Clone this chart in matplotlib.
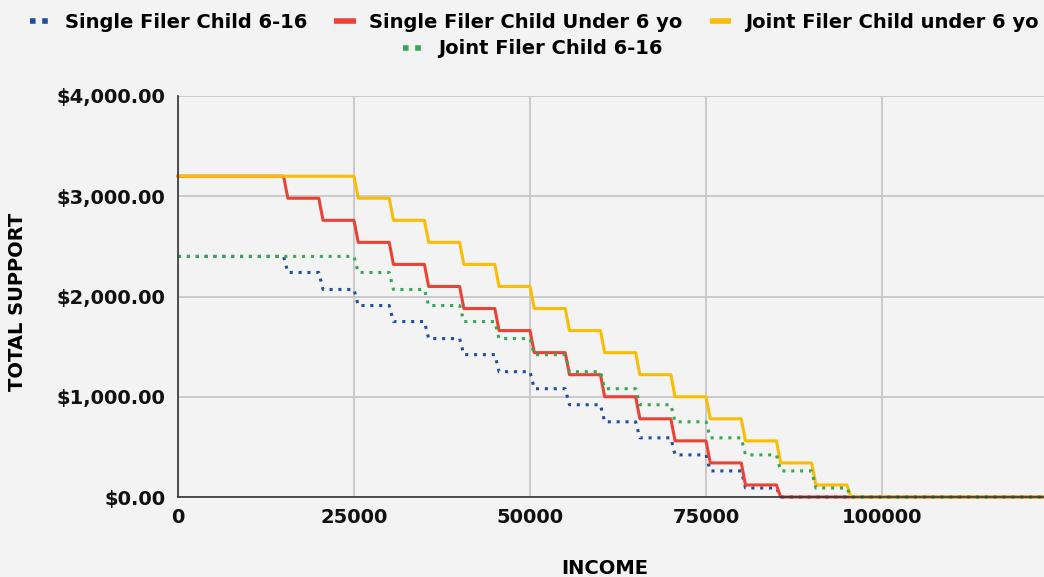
import matplotlib
matplotlib.use("Agg")
import matplotlib.pyplot as plt
from matplotlib.lines import Line2D
from matplotlib.ticker import FuncFormatter

# support levels ($) between drops
single_6_16_levels = [2400, 2240, 2070, 1910, 1750, 1580, 1420, 1250, 1080, 920, 750, 590, 420, 260, 90, 0]
single_u6_levels = [3200, 2980, 2760, 2540, 2320, 2100, 1880, 1660, 1440, 1220, 1000, 780, 560, 340, 120, 0]
joint_u6_levels = [3200, 2980, 2760, 2540, 2320, 2100, 1880, 1660, 1440, 1220, 1000, 780, 560, 340, 120, 0]
joint_6_16_levels = [2400, 2240, 2070, 1910, 1750, 1580, 1420, 1250, 1080, 920, 750, 590, 420, 260, 90, 0]

# incomes where each drop happens
single_breaks = [15000, 20000, 25000, 30000, 35000, 40000, 45000, 50000,
                 55000, 60000, 65000, 70000, 75000, 80000, 85000]
joint_breaks = [25000, 30000, 35000, 40000, 45000, 50000, 55000, 60000,
                65000, 70000, 75000, 80000, 85000, 90000, 95000]

x_ticks = [0, 25000, 50000, 75000, 100000]
y_ticks = [0, 1000, 2000, 3000, 4000]
x_max = 123000
ramp = 600  # width of each drop in the drawn line

BG = "#f3f3f3"
FONT = dict(family="DejaVu Sans", weight="bold")


def steps(breaks, levels):
    xs, ys = [0], [levels[0]]
    for i, b in enumerate(breaks):
        xs += [b, b + ramp]
        ys += [levels[i], levels[i + 1]]
    xs.append(x_max)
    ys.append(levels[-1])
    return xs, ys


series = [
    ("Single Filer Child 6-16", single_breaks, single_6_16_levels, "#1f4e9c", "dot"),
    ("Single Filer Child Under 6 yo", single_breaks, single_u6_levels, "#ea4335", "solid"),
    ("Joint Filer Child under 6 yo", joint_breaks, joint_u6_levels, "#fbbc04", "solid"),
    ("Joint Filer Child 6-16", joint_breaks, joint_6_16_levels, "#34a853", "dot"),
]

fig = plt.figure(figsize=(10.44, 5.77), dpi=100, facecolor=BG)
ax = fig.add_axes([178 / 1044, 1 - 497 / 577, 1 - 178 / 1044, 401 / 577])
ax.set_facecolor(BG)

handles = []
for label, br, lv, col, style in series:
    xs, ys = steps(br, lv)
    if style == "dot":
        ls = (0, (1, 1.9))
    else:
        ls = "-"
    ax.plot(xs, ys, color=col, lw=2.2, ls=ls, dash_capstyle="butt",
            solid_joinstyle="round", clip_on=False)
    if style == "dot":
        h = Line2D([], [], color=col, lw=4, ls=(0, (1, 1.2)), dash_capstyle="butt")
    else:
        h = Line2D([], [], color=col, lw=4, ls="-", solid_capstyle="butt")
    handles.append((h, label))

ax.set_xlim(0, x_max)
ax.set_ylim(0, 4000)
ax.set_xticks(x_ticks)
ax.set_yticks(y_ticks)
ax.yaxis.set_major_formatter(FuncFormatter(lambda v, p: f"${v:,.2f}"))
ax.tick_params(length=0, labelsize=14, colors="#111111")
ax.tick_params(axis="y", pad=9)
ax.tick_params(axis="x", pad=8)
for t in ax.get_xticklabels() + ax.get_yticklabels():
    t.set_fontweight("bold")
ax.grid(True, color="#c4c4c4", lw=1.2)
ax.set_axisbelow(True)
for s in ["top", "right"]:
    ax.spines[s].set_visible(False)
for s in ["left", "bottom"]:
    ax.spines[s].set_color("#333333")
    ax.spines[s].set_linewidth(1.2)

fig.text(605 / 1044, 1 - 568 / 577, "INCOME", ha="center", va="center", fontsize=14, **FONT)
fig.text(18 / 1044, 1 - 302 / 577, "TOTAL SUPPORT", ha="center", va="center",
         rotation=90, fontsize=14, **FONT)

leg_kw = dict(frameon=False, handlelength=1.1, handletextpad=0.7,
              prop=dict(family="DejaVu Sans", weight="bold", size=14))
fig.legend([h for h, _ in handles[:3]], [l for _, l in handles[:3]], ncol=3,
           loc="center", bbox_to_anchor=(534 / 1044, 1 - 22 / 577), columnspacing=1.4, **leg_kw)
fig.legend([handles[3][0]], [handles[3][1]], loc="center",
           bbox_to_anchor=(533 / 1044, 1 - 49 / 577), **leg_kw)

fig.savefig("out.png", dpi=100, facecolor=BG)
